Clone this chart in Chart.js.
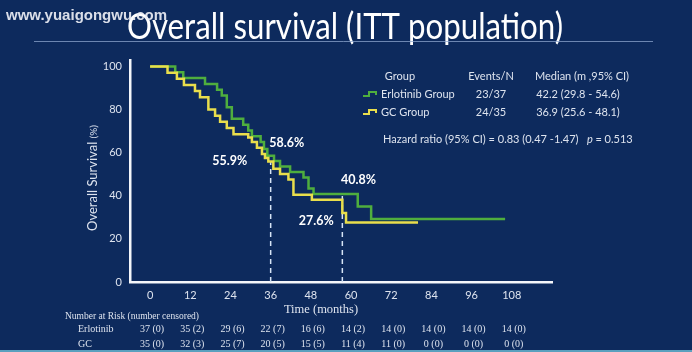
<!DOCTYPE html>
<html>
<head>
<meta charset="utf-8">
<script src="https://cdn.jsdelivr.net/npm/chart.js@4.4.0/dist/chart.umd.min.js"></script>
<style>
  html, body { margin: 0; padding: 0; background: #0e2a5c; }
</style>
</head>
<body>
<canvas id="survivalChart" width="692" height="352"></canvas>
<script>
// Kaplan-Meier steps (months, % alive)
const monthTicks = [0, 12, 24, 36, 48, 60, 72, 84, 96, 108];
const survTicks = [0, 20, 40, 60, 80, 100];

const erlotinibTime = [0, 7.5, 9.9, 16.4, 20.0, 21.4, 22.9, 24.4, 27.8, 29.3, 30.4, 33.0, 34.0, 35.0, 37.0, 38.8, 41.8, 45.8, 47.3, 48.8, 62.0, 66.0, 106.0];
const erlotinibSurv = [100, 97.3, 94.6, 91.9, 89.2, 86.5, 81.1, 75.7, 73.0, 70.3, 67.6, 64.9, 61.7, 58.6, 56.1, 53.6, 51.0, 48.5, 43.4, 40.8, 35.0, 29.2, 29.2];

const gcTime = [0, 5.2, 8.0, 10.1, 13.4, 14.9, 17.4, 19.4, 20.9, 22.9, 24.9, 29.3, 30.4, 31.9, 33.4, 34.3, 35.3, 36.8, 38.8, 41.3, 42.8, 48.3, 57.4, 58.5, 80.0];
const gcSurv = [100, 97.1, 94.3, 91.4, 88.6, 85.7, 80.0, 77.1, 74.3, 71.4, 68.6, 67.1, 65.0, 62.3, 59.4, 57.5, 55.9, 52.6, 50.1, 47.5, 40.5, 38.2, 32.0, 27.6, 27.6];

// dashed landmark lines (month, survival at the top of the line)
const landmarkMonth = [36, 57.4];
const landmarkSurv = [55.9, 40.8];

// percentage call-outs
const calloutText = ['58.6%', '55.9%', '40.8%', '27.6%'];
const calloutMonth = [40.8, 23.8, 62.2, 49.6];
const calloutSurv = [64.6, 56.3, 47.3, 28.2];

// number at risk (number censored)
const erlotinibAtRisk = ['37 (0)', '35 (2)', '29 (6)', '22 (7)', '16 (6)', '14 (2)', '14 (0)', '14 (0)', '14 (0)', '14 (0)'];
const gcAtRisk = ['35 (0)', '32 (3)', '25 (7)', '20 (5)', '15 (5)', '11 (4)', '11 (0)', '0 (0)', '0 (0)', '0 (0)'];

const BG = '#0d2a5d';
const GREEN = '#4fae3e';
const YELLOW = '#e9de4c';
const TEXT = '#dde3ee';

const toPoints = (xs, ys) => xs.map((t, i) => ({ x: t, y: ys[i] }));

const landmarkSets = landmarkMonth.map((m, i) => ({
    data: [{ x: m, y: 0 }, { x: m, y: landmarkSurv[i] }],
    borderColor: '#d6e4f6',
    borderWidth: 1.5,
    borderDash: [5, 4],
    pointRadius: 0,
    order: 2
}));

const slideText = {
    id: 'slideText',
    beforeDraw(chart) {
        const ctx = chart.ctx;
        ctx.save();
        ctx.fillStyle = BG;
        ctx.fillRect(0, 0, chart.width, chart.height);
        ctx.restore();
    },
    afterDraw(chart) {
        const { ctx, scales: { x, y } } = chart;
        ctx.save();

        // title (squeezed a bit, the slide font is a condensed one) + rule
        ctx.fillStyle = '#ffffff';
        ctx.font = '36px Lato';
        ctx.textAlign = 'center';
        ctx.textBaseline = 'alphabetic';
        const title = 'Overall survival (ITT population)';
        const sx = 436 / ctx.measureText(title).width;
        ctx.save();
        ctx.translate(345, 39);
        ctx.scale(sx, 1);
        ctx.fillText(title, 0, 0);
        ctx.restore();
        ctx.strokeStyle = 'rgba(140,165,205,0.75)';
        ctx.lineWidth = 1;
        ctx.beginPath();
        ctx.moveTo(34, 41.5);
        ctx.lineTo(653, 41.5);
        ctx.stroke();

        // watermark
        ctx.textAlign = 'left';
        ctx.font = 'bold 15px "Liberation Sans"';
        ctx.fillStyle = 'rgba(235,238,245,0.92)';
        ctx.fillText('www.yuaigongwu.com', 6, 20);

        // y axis title
        ctx.save();
        ctx.translate(93, 178);
        ctx.rotate(-Math.PI / 2);
        ctx.fillStyle = TEXT;
        ctx.textBaseline = 'middle';
        const main = 'Overall Survival ';
        ctx.font = '10px Lato';
        const pw = ctx.measureText('(%)').width;
        ctx.font = '13px Lato';
        const mw = ctx.measureText(main).width;
        ctx.textAlign = 'left';
        ctx.fillText(main, -(mw + pw) / 2, 0);
        ctx.font = '10px Lato';
        ctx.fillText('(%)', -(mw + pw) / 2 + mw, 1);
        ctx.restore();

        // call-outs
        ctx.fillStyle = '#ffffff';
        ctx.font = 'bold 12.5px Lato';
        ctx.textAlign = 'center';
        ctx.textBaseline = 'middle';
        calloutText.forEach((t, i) => {
            ctx.fillText(t, x.getPixelForValue(calloutMonth[i]), y.getPixelForValue(calloutSurv[i]));
        });

        // legend block
        ctx.fillStyle = TEXT;
        ctx.font = '11px Lato';
        ctx.textBaseline = 'middle';
        ctx.textAlign = 'center';
        ctx.fillText('Group', 400, 76);
        ctx.fillText('Events/N', 491, 76);
        ctx.fillText('Median (m ,95% CI)', 582, 76);
        ctx.fillText('23/37', 491, 94);
        ctx.fillText('24/35', 491, 112);
        ctx.fillText('42.2 (29.8 - 54.6)', 578, 94);
        ctx.fillText('36.9 (25.6 - 48.1)', 578, 112);
        ctx.textAlign = 'left';
        ctx.fillText('Erlotinib Group', 381, 94);
        ctx.fillText('GC Group', 381, 112);
        const hz = 'Hazard ratio (95% CI) = 0.83 (0.47 -1.47)   ';
        ctx.fillText(hz, 383, 139);
        let hx = 383 + ctx.measureText(hz).width;
        ctx.font = 'italic 11px Lato';
        ctx.fillText('p', hx, 139);
        hx += ctx.measureText('p ').width;
        ctx.font = '11px Lato';
        ctx.fillText('= 0.513', hx, 139);

        // little step glyphs
        [[GREEN, 94], [YELLOW, 112]].forEach(([c, cy]) => {
            ctx.strokeStyle = c;
            ctx.lineWidth = 2;
            ctx.beginPath();
            ctx.moveTo(363, cy + 2);
            ctx.lineTo(369, cy + 2);
            ctx.lineTo(369, cy - 2);
            ctx.lineTo(376, cy - 2);
            ctx.lineTo(376, cy + 1);
            ctx.stroke();
        });

        // x axis title and risk table
        ctx.fillStyle = TEXT;
        ctx.textAlign = 'center';
        ctx.font = '12.5px "Liberation Serif"';
        ctx.fillText('Time (months)', 321, 310);
        ctx.textAlign = 'left';
        ctx.font = '9.5px "Liberation Serif"';
        ctx.fillText('Number at Risk (number censored)', 65, 316);
        ctx.font = '10px "Liberation Serif"';
        ctx.fillText('Erlotinib', 78, 329);
        ctx.fillText('GC', 78, 344);
        ctx.textAlign = 'center';
        monthTicks.forEach((m, i) => {
            const px = x.getPixelForValue(m) + 2;
            ctx.fillText(erlotinibAtRisk[i], px, 329);
            ctx.fillText(gcAtRisk[i], px, 344);
        });

        // thin bottom border of the slide
        ctx.strokeStyle = 'rgba(110,190,215,0.8)';
        ctx.beginPath();
        ctx.moveTo(0, 351);
        ctx.lineTo(692, 351);
        ctx.stroke();

        ctx.restore();
    }
};

new Chart(document.getElementById('survivalChart').getContext('2d'), {
    type: 'line',
    data: {
        datasets: [
            {
                label: 'GC Group',
                data: toPoints(gcTime, gcSurv),
                borderColor: YELLOW,
                borderWidth: 2.5,
                stepped: 'before',
                pointRadius: 0,
                order: 0
            },
            {
                label: 'Erlotinib Group',
                data: toPoints(erlotinibTime, erlotinibSurv),
                borderColor: GREEN,
                borderWidth: 2.5,
                stepped: 'before',
                pointRadius: 0,
                order: 1
            },
            ...landmarkSets
        ]
    },
    options: {
        responsive: false,
        animation: false,
        layout: { padding: { top: 60, right: 140, left: 0, bottom: 0 } },
        plugins: { legend: { display: false }, tooltip: { enabled: false } },
        scales: {
            x: {
                type: 'linear',
                min: -6,
                max: 120,
                grid: { display: false, drawTicks: false },
                border: { color: '#f4f6fa', width: 2.5 },
                afterBuildTicks: s => { s.ticks = monthTicks.map(v => ({ value: v })); },
                afterFit: s => { s.height = 70; },
                ticks: { color: TEXT, font: { family: 'Lato', size: 11 }, padding: 7, maxRotation: 0, autoSkip: false }
            },
            y: {
                min: 0,
                max: 103,
                grid: { display: false, drawTicks: false },
                border: { color: '#f4f6fa', width: 2.5 },
                afterBuildTicks: s => { s.ticks = survTicks.map(v => ({ value: v })); },
                afterFit: s => { s.width = 130; },
                ticks: { color: TEXT, font: { family: 'Lato', size: 11 }, padding: 8 }
            }
        }
    },
    plugins: [slideText]
});
</script>
</body>
</html>
